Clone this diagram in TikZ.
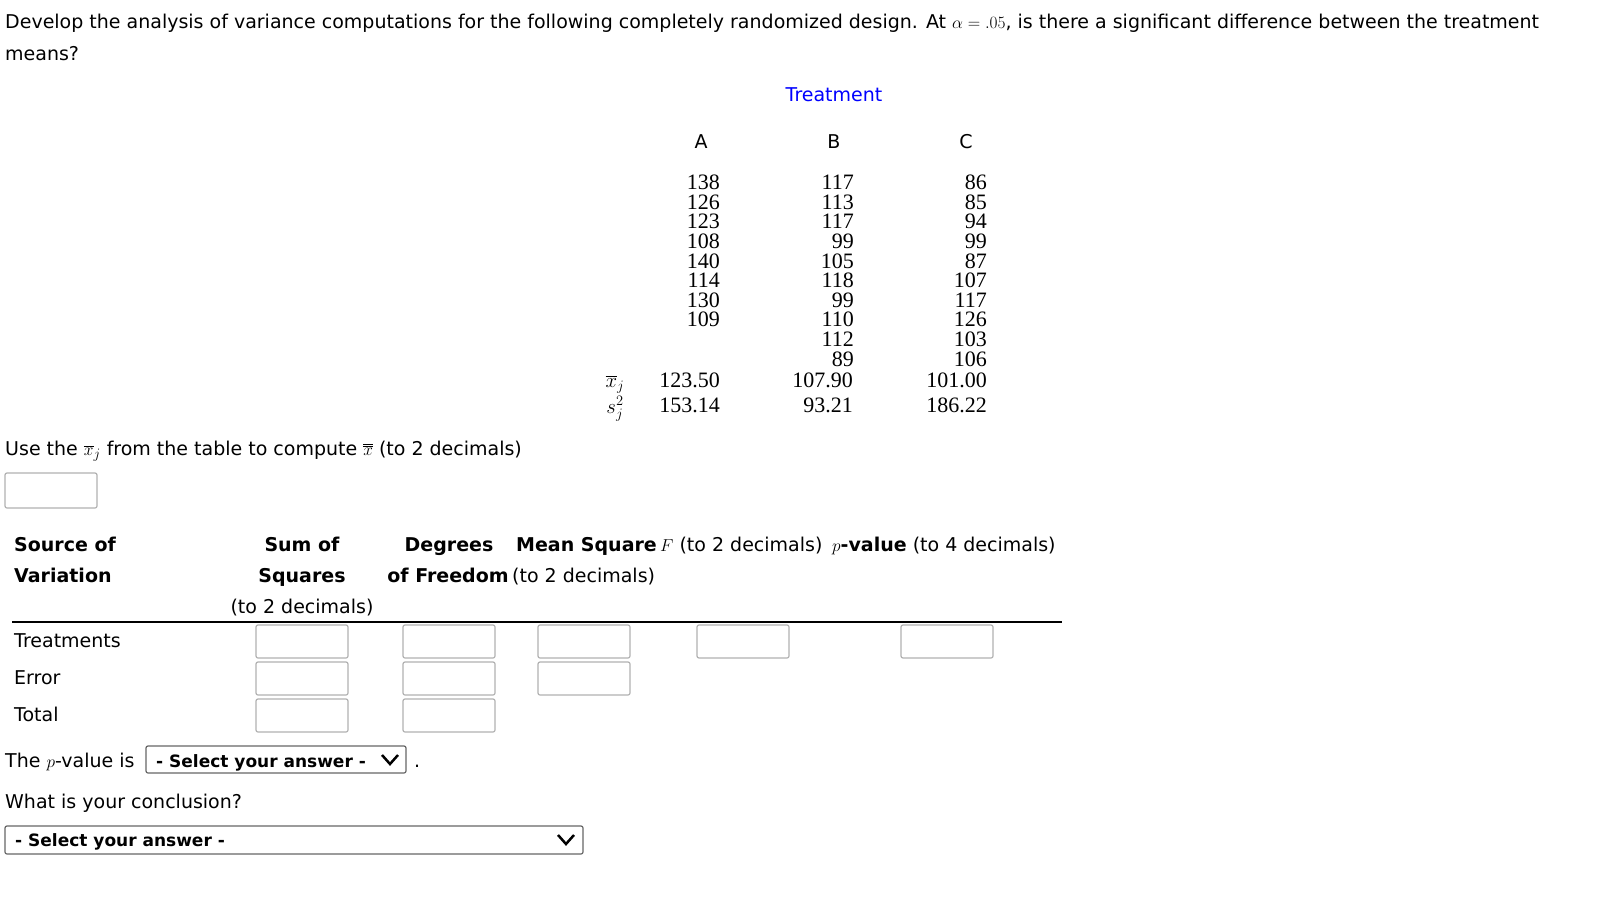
\documentclass[tikz,border=0pt]{standalone}
\usepackage{fontspec}
\setmainfont{DejaVu Sans}
\newfontfamily\numf{Liberation Serif}
\begin{document}
\begin{tikzpicture}[x=1pt,y=-1pt,
  txt/.style={anchor=base west,inner sep=0,font=\fontsize{19}{23}\selectfont},
  btxt/.style={txt,font=\fontsize{19}{23}\selectfont\bfseries},
  ctxt/.style={txt,anchor=base},
  cbtxt/.style={btxt,anchor=base},
  num/.style={anchor=base east,inner sep=0,font=\fontsize{22}{22}\selectfont\numf},
  inbox/.style={draw=gray!60,line width=1.2pt,rounded corners=2pt},
  selbox/.style={draw=gray!80!black,line width=1.2pt,rounded corners=2pt}]
\useasboundingbox[fill=white] (0,0) rectangle (1600,904);
\node[txt] (t1) at (5,29) {Develop the analysis of variance computations for the following completely randomized design. At $\alpha=.05$, is there a significant difference between the treatment};
\node[txt] (t2) at (5,61) {means?};
\node[ctxt,text=blue] (tr) at (834,102) {Treatment};
\node[ctxt] (ha) at (701,149) {A};
\node[ctxt] (hb) at (834,149) {B};
\node[ctxt] (hc) at (966,149) {C};
\foreach \v [count=\i] in {138,126,123,108,140,114,130,109}
  \node[num] (a\i) at (720,{170+19.6*\i}) {\v};
\foreach \v [count=\i] in {117,113,117,99,105,118,99,110,112,89}
  \node[num] (b\i) at (854,{170+19.6*\i}) {\v};
\foreach \v [count=\i] in {86,85,94,99,87,107,117,126,103,106}
  \node[num] (c\i) at (987,{170+19.6*\i}) {\v};
\node[anchor=base,inner sep=0,font=\fontsize{20}{20}\selectfont] (xl) at (615,387) {$\overline{x}_j$};
\node[anchor=base,inner sep=0,font=\fontsize{20}{20}\selectfont] (sl) at (615,413) {$s_j^2$};
\node[num] (ma) at (720,387) {123.50};
\node[num] (mb) at (853,387) {107.90};
\node[num] (mc) at (987,387) {101.00};
\node[num] (va) at (720,412) {153.14};
\node[num] (vb) at (853,412) {93.21};
\node[num] (vc) at (987,412) {186.22};
\node[txt] (use) at (5,455) {Use the $\overline{x}_j$ from the table to compute $\overline{\overline{x}}$ (to 2 decimals)};
\draw[inbox] (5,473) rectangle (97,508);
\node[btxt] (h1) at (14,551) {Source of};
\node[btxt] (h2) at (14,582) {Variation};
\node[cbtxt] (h3) at (302,551) {Sum of};
\node[cbtxt] (h4) at (302,582) {Squares};
\node[ctxt] (h5) at (302,613) {(to 2 decimals)};
\node[cbtxt] (h6) at (449,551) {Degrees};
\node[cbtxt] (h7) at (448,582) {of Freedom};
\node[btxt] (h8) at (516,551) {Mean Square};
\node[txt] (h9) at (512,582) {(to 2 decimals)};
\node[txt] (h10) at (660,551) {$F$ (to 2 decimals)};
\node[txt] (h11) at (832,551) {$p$\textbf{-value} (to 4 decimals)};
\coordinate (l1) at (12,622); \coordinate (l2) at (1062,622);
\draw[line width=1.5pt] (l1) -- (l2);
\node[txt] (r1) at (14,647) {Treatments};
\node[txt] (r2) at (14,684) {Error};
\node[txt] (r3) at (14,721) {Total};
\foreach \x in {256,403,538,697,901} \draw[inbox] (\x,625) rectangle ++(92,33);
\foreach \x in {256,403,538} \draw[inbox] (\x,662) rectangle ++(92,33);
\foreach \x in {256,403} \draw[inbox] (\x,699) rectangle ++(92,33);
\node[txt] (pv) at (5,767) {The $p$-value is};
\draw[selbox] (146,746) rectangle (406,773);
\node[anchor=base west,inner sep=0,font=\fontsize{17}{20}\selectfont\bfseries] (s1) at (156,767) {- Select your answer -};
\draw[line width=2.5pt] (382,755) -- (390,764) -- (398,755);
\node[txt] (dot) at (414,767) {.};
\node[txt] (wc) at (5,808) {What is your conclusion?};
\draw[selbox] (5,826) rectangle (583,854);
\node[anchor=base west,inner sep=0,font=\fontsize{17}{20}\selectfont\bfseries] (s2) at (15,846) {- Select your answer -};
\draw[line width=2.5pt] (558,835) -- (566,844) -- (574,835);
\end{tikzpicture}
\end{document}
